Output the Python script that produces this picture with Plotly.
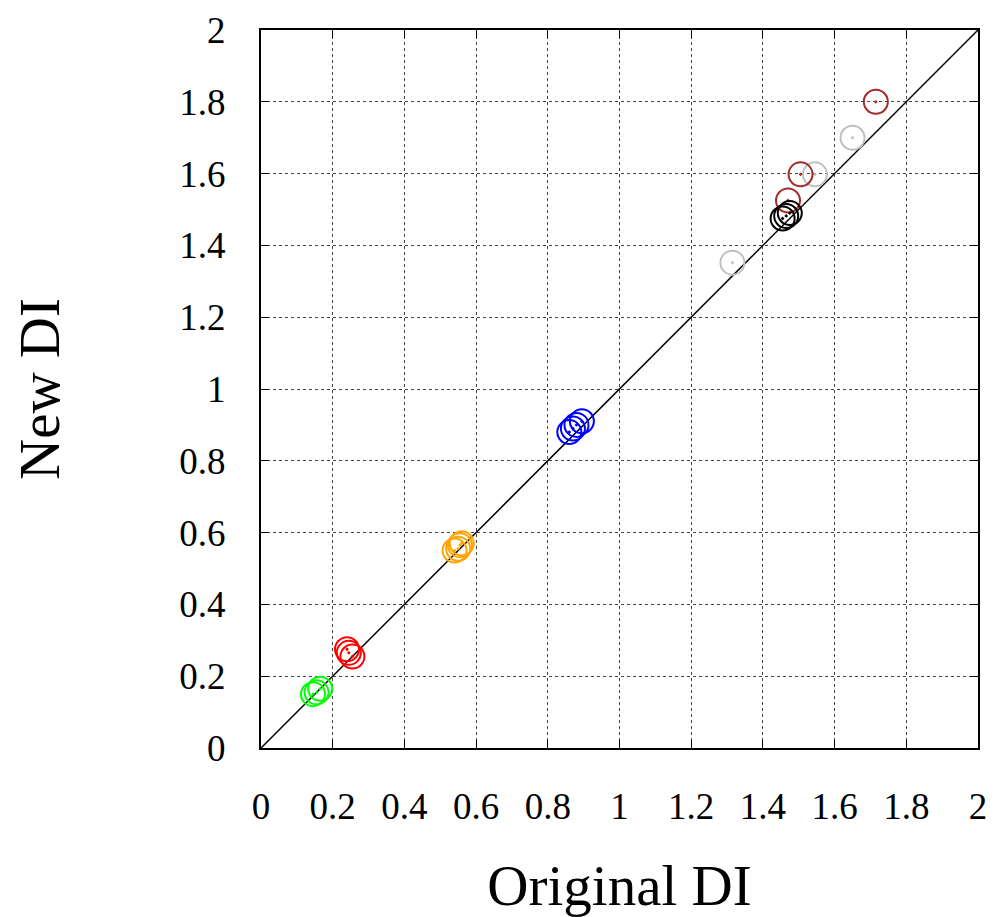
import plotly.graph_objects as go

# Data
green_x = [0.145, 0.155, 0.165]
green_y = [0.150, 0.155, 0.165]
red_x = [0.240, 0.245, 0.255]
red_y = [0.275, 0.265, 0.255]
orange_x = [0.540, 0.550, 0.555, 0.560]
orange_y = [0.550, 0.555, 0.565, 0.570]
blue_x = [0.860, 0.870, 0.880, 0.895]
blue_y = [0.880, 0.890, 0.900, 0.910]
black_x = [1.455, 1.465, 1.475]
black_y = [1.475, 1.482, 1.490]
brown_x = [1.470, 1.505, 1.715]
brown_y = [1.525, 1.598, 1.800]
gray_x = [1.315, 1.545, 1.650]
gray_y = [1.352, 1.598, 1.700]
diag = [0, 2]
tick_vals = [0, 0.2, 0.4, 0.6, 0.8, 1, 1.2, 1.4, 1.6, 1.8, 2]
tick_text = ["0", "0.2", "0.4", "0.6", "0.8", "1", "1.2", "1.4", "1.6", "1.8", "2"]

FONT = "Liberation Serif"

fig = go.Figure()
fig.add_trace(go.Scatter(x=diag, y=diag, mode="lines",
                         line=dict(color="black", width=1.5), showlegend=False))

series = [
    (green_x, green_y, "#00ff00"),
    (red_x, red_y, "#ff0000"),
    (orange_x, orange_y, "#ffa500"),
    (blue_x, blue_y, "#0000ff"),
    (gray_x, gray_y, "#c0c0c0"),
    (brown_x, brown_y, "#a52a2a"),
    (black_x, black_y, "#000000"),
]
for xs, ys, c in series:
    fig.add_trace(go.Scatter(
        x=xs, y=ys, mode="markers", showlegend=False,
        marker=dict(symbol="circle-open-dot", size=24, color=c,
                    line=dict(color=c, width=2)),
    ))

axis_common = dict(
    range=[0, 2], tickvals=tick_vals, ticktext=tick_text,
    showgrid=True, gridcolor="#444444", griddash="dot", gridwidth=1,
    showline=True, linecolor="black", linewidth=2, mirror="ticks",
    ticks="inside", ticklen=8, tickcolor="black", tickwidth=1,
    zeroline=False, automargin=False,
    tickfont=dict(family=FONT, size=37, color="black"),
)

fig.update_xaxes(**axis_common, ticklabelstandoff=25,
                 title=dict(text="Original DI", font=dict(family=FONT, size=57, color="black"),
                            standoff=51))
fig.update_yaxes(**axis_common, ticklabelstandoff=26,
                 title=dict(text="New DI", font=dict(family=FONT, size=57, color="black"),
                            standoff=110))

# The page body adds an 8px offset, so the figure is 8px smaller to fit the window
fig.update_layout(
    width=987, height=909,
    margin=dict(l=253, r=17, t=22, b=169, autoexpand=False),
    plot_bgcolor="white", paper_bgcolor="white",
    font=dict(family=FONT, color="black"),
)

fig.write_html("out.html")
